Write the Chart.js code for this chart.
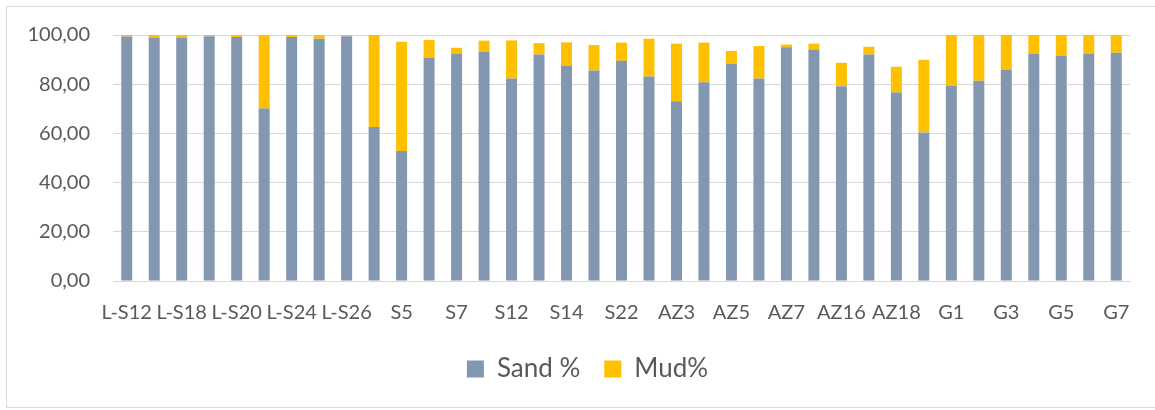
<html lang="en">
<head>
<meta charset="UTF-8">
<title>Sand / Mud</title>
<script src="https://cdn.jsdelivr.net/npm/chart.js"></script>
<style>
  body { margin: 0; background: #fff; }
  #wrap { position: relative; width: 1155px; height: 410px; overflow: hidden; }
  #frame { position: absolute; left: 6px; top: 6px; width: 1160px; height: 402px; border: 1px solid #d9d9d9; box-sizing: border-box; }
  canvas { position: absolute; left: 0; top: 0; }
</style>
</head>
<body>
<div id="wrap">
  <div id="frame"></div>
  <canvas id="chart" width="1155" height="410"></canvas>
</div>
<script>
const stations = ['L-S12', 'L-S14', 'L-S18', 'L-S19', 'L-S20', 'L-S22', 'L-S24', 'L-S25', 'L-S26', 'S3',
  'S5', 'S6', 'S7', 'S8', 'S12', 'S13', 'S14', 'S15', 'S22', 'AZ1',
  'AZ3', 'AZ4', 'AZ5', 'AZ6', 'AZ7', 'AZ15', 'AZ16', 'AZ17', 'AZ18', 'AZ19',
  'G1', 'G2', 'G3', 'G4', 'G5', 'G6', 'G7'];

const sand = [99.4, 99.0, 99.0, 99.5, 99.2, 70.1, 99.2, 98.5, 99.5, 62.6,
  52.8, 90.9, 92.5, 93.3, 82.3, 92.1, 87.6, 85.6, 89.5, 83.1,
  73.1, 80.8, 88.2, 82.3, 95.0, 94.1, 79.2, 92.1, 76.6, 60.4,
  79.5, 81.4, 86.0, 92.5, 91.7, 92.5, 92.8];

const mud = [0.6, 1.0, 1.0, 0.5, 0.8, 29.9, 0.8, 1.5, 0.5, 37.4,
  44.5, 7.1, 2.3, 4.4, 15.5, 4.6, 9.4, 10.3, 7.4, 15.4,
  23.4, 16.1, 5.3, 13.2, 1.1, 2.4, 9.5, 3.1, 10.5, 29.5,
  20.5, 18.6, 14.0, 7.5, 8.3, 7.5, 7.2];

const yTicks = [0, 20, 40, 60, 80, 100];

const txt = '#595959';
const grid = '#d9d9d9';
const fontFam = 'Lato, "Open Sans", sans-serif';

// nudge the legend a bit to the right, Excel centres it on the whole frame
const legendShift = {
  id: 'legendShift',
  afterLayout(chart) {
    chart.legend.left += 10;
    chart.legend.right += 10;
  }
};

const ctx = document.getElementById('chart').getContext('2d');
new Chart(ctx, {
  type: 'bar',
  data: {
    labels: stations,
    datasets: [
      { label: 'Sand %', data: sand, backgroundColor: '#8497b0', barPercentage: 0.4, categoryPercentage: 1 },
      { label: 'Mud%', data: mud, backgroundColor: '#ffc000', barPercentage: 0.4, categoryPercentage: 1 }
    ]
  },
  options: {
    responsive: false,
    animation: false,
    layout: { padding: { left: 25, right: 25, top: 27, bottom: 18 } },
    plugins: {
      legend: {
        position: 'bottom',
        labels: { color: txt, font: { family: fontFam, size: 26 }, boxWidth: 17, boxHeight: 17, padding: 24 }
      },
      tooltip: { enabled: false }
    },
    scales: {
      x: {
        stacked: true,
        grid: { display: false },
        border: { color: grid },
        // first label hangs past the plot edge, like in Excel
        afterFit: s => { s.paddingLeft = 0; s.paddingRight = 0; s.height -= 5; },
        ticks: {
          color: txt, font: { family: fontFam, size: 20 }, autoSkip: false, maxRotation: 0, padding: 12,
          callback: (v, i) => (i % 2 === 0 ? stations[i] : '')
        }
      },
      y: {
        stacked: true,
        min: 0, max: 100,
        afterBuildTicks: axis => { axis.ticks = yTicks.map(v => ({ value: v })); },
        afterFit: s => { s.width = 88; },
        grid: { color: grid, drawTicks: false },
        border: { display: false },
        ticks: {
          color: txt, font: { family: fontFam, size: 20 }, padding: 23,
          callback: v => v.toFixed(2).replace('.', ',')
        }
      }
    }
  },
  plugins: [legendShift]
});
</script>
</body>
</html>
